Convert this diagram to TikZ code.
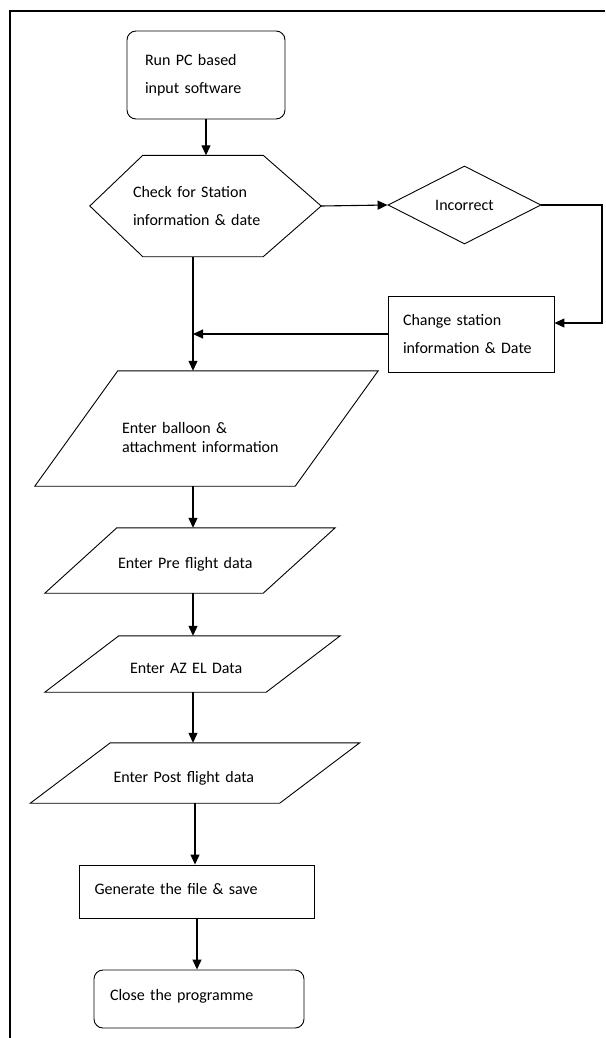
\documentclass[tikz,border=0pt]{standalone}
\usepackage{fontspec}
\setmainfont{Carlito}
\usetikzlibrary{shapes.geometric,arrows.meta}
\newcommand{\ioedge}[2]{\draw[line width=0.9pt] (#1.south west) -- ([xshift=#2]#1.north west) -- (#1.north east) -- ([xshift=-#2]#1.south east) -- cycle;}

\begin{document}
\begin{tikzpicture}[x=1pt,y=-1pt,font=\fontsize{16}{28}\selectfont,
  flow/.style={draw,line width=1.1pt,-{Triangle[length=10pt,width=9pt]}},
  termbox/.style={draw,rounded corners=9pt,align=left,line width=0.9pt},
  procbox/.style={draw,align=left,line width=0.9pt},
  iobox/.style={align=left,inner ysep=0pt,text depth=3pt},
  decbox/.style={draw,diamond,inner sep=0pt,line width=0.9pt}]
\useasboundingbox (0,0) rectangle (605,1038);
\draw[line width=2pt] (10,1038) -- (10,11) -- (605,11);
\coordinate (spine) at (193,0);
\coordinate (rim) at (602,0);
\node[termbox,text width=122pt,inner xsep=18pt,minimum height=88pt] (start) at (206,75) {Run PC based\\input software};
\node[align=left,text width=145pt,inner xsep=43pt,minimum height=101pt,text height=8pt,text depth=26pt] (chk) at (205.5,206) {Check for Station\\information \& date};
\draw[line width=0.9pt] (chk.west) -- ([xshift=53pt]chk.north west) -- ([xshift=-58pt]chk.north east) -- (chk.east) -- ([xshift=-58pt]chk.south east) -- ([xshift=53pt]chk.south west) -- cycle;
\node[decbox,minimum width=153pt,minimum height=78pt] (inc) at (464.5,205) {Incorrect};
\node[procbox,text width=136pt,inner xsep=15pt,minimum height=76pt] (chg) at (471,334) {Change station\\information \& Date};
\node[iobox,minimum width=343pt,minimum height=115pt,text width=169pt,inner xsep=87pt,text height=12pt,font=\fontsize{16}{19}\selectfont] (bal) at (206.5,428.5) {Enter balloon \&\\attachment information};
\ioedge{bal}{83pt}
\node[iobox,minimum width=290pt,minimum height=65pt,text width=144pt,inner xsep=73pt,text height=18pt] (pre) at (190,560.5) {Enter Pre flight data};
\ioedge{pre}{72pt}
\node[iobox,minimum width=295pt,minimum height=56pt,text width=125pt,inner xsep=85pt,text height=21pt] (azel) at (192.5,664) {Enter AZ EL Data};
\ioedge{azel}{74pt}
\node[iobox,minimum width=329pt,minimum height=60pt,text width=163pt,inner xsep=83pt,text height=21pt] (post) at (195,773) {Enter Post flight data};
\ioedge{post}{80pt}
\node[procbox,text width=205pt,inner xsep=15pt,minimum height=53pt,text height=8pt,text depth=3pt] (gen) at (197,891.5) {Generate the file \& save};
\node[termbox,text width=178pt,inner xsep=16pt,minimum height=58pt,text height=5pt,text depth=3pt] (close) at (199,999) {Close the programme};
\draw[flow] (start.south) -- (start.south |- chk.north);
\draw[flow] (chk.east) -- (inc.west);
\draw[flow] (inc.east) -- (inc.east -| rim) |- ([yshift=11pt]chg.east);
\draw[flow] (chg.west) -- (chg.west -| spine);
\draw[flow] (chk.south -| spine) -- (bal.north -| spine);
\draw[flow] (bal.south -| spine) -- (pre.north -| spine);
\draw[flow] (pre.south -| spine) -- (azel.north -| spine);
\draw[flow] (azel.south -| spine) -- (post.north -| spine);
\draw[flow] (post.south) -- (post.south |- gen.north);
\draw[flow] (gen.south) -- (gen.south |- close.north);
\end{tikzpicture}
\end{document}
